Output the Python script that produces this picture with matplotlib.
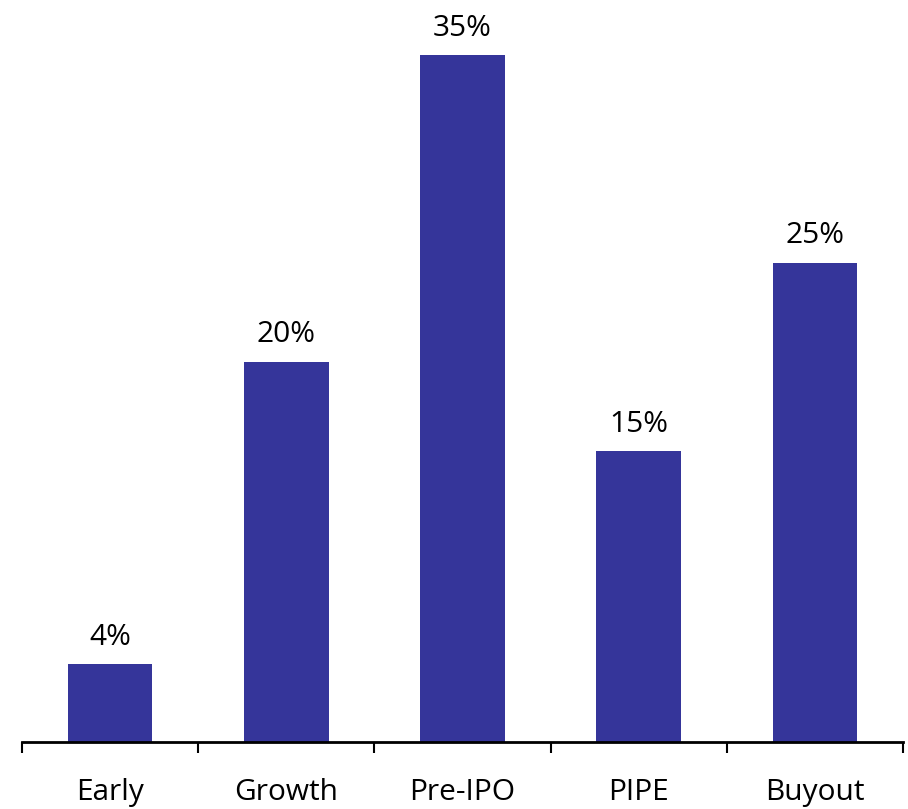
import numpy as np
import matplotlib.pyplot as plt

categories = ['Early', 'Growth', 'Pre-IPO', 'PIPE', 'Buyout']
shares = [4.0, 19.6, 35.4, 15.0, 24.7]

plt.rcParams['font.family'] = ['Open Sans', 'DejaVu Sans']

fig = plt.figure(figsize=(9.08, 8.09), dpi=100)
ax = fig.add_axes([22 / 908, 67 / 809, 881 / 908, 742 / 809])

x = np.arange(len(categories))
bars = ax.bar(x, shares, width=0.48, color='#35359a')

for b, v in zip(bars, shares):
    ax.annotate(f'{v:.0f}%', (b.get_x() + b.get_width() / 2, v),
                xytext=(0, 9), textcoords='offset points',
                ha='center', va='bottom', fontsize=21.5)

ax.set_xlim(-0.5, len(categories) - 0.5)
ax.set_ylim(0, 742 / 19.4)

for s in ['top', 'right', 'left']:
    ax.spines[s].set_visible(False)
ax.spines['bottom'].set_linewidth(2)
ax.set_yticks([])

ax.set_xticks(x)
ax.set_xticklabels(categories, fontsize=21.5)
ax.tick_params(axis='x', which='major', length=0, pad=26)
ax.set_xticks(np.arange(-0.5, len(categories)), minor=True)
ax.tick_params(axis='x', which='minor', length=8, width=1.5, direction='out')

fig.savefig('out.png', dpi=100)
